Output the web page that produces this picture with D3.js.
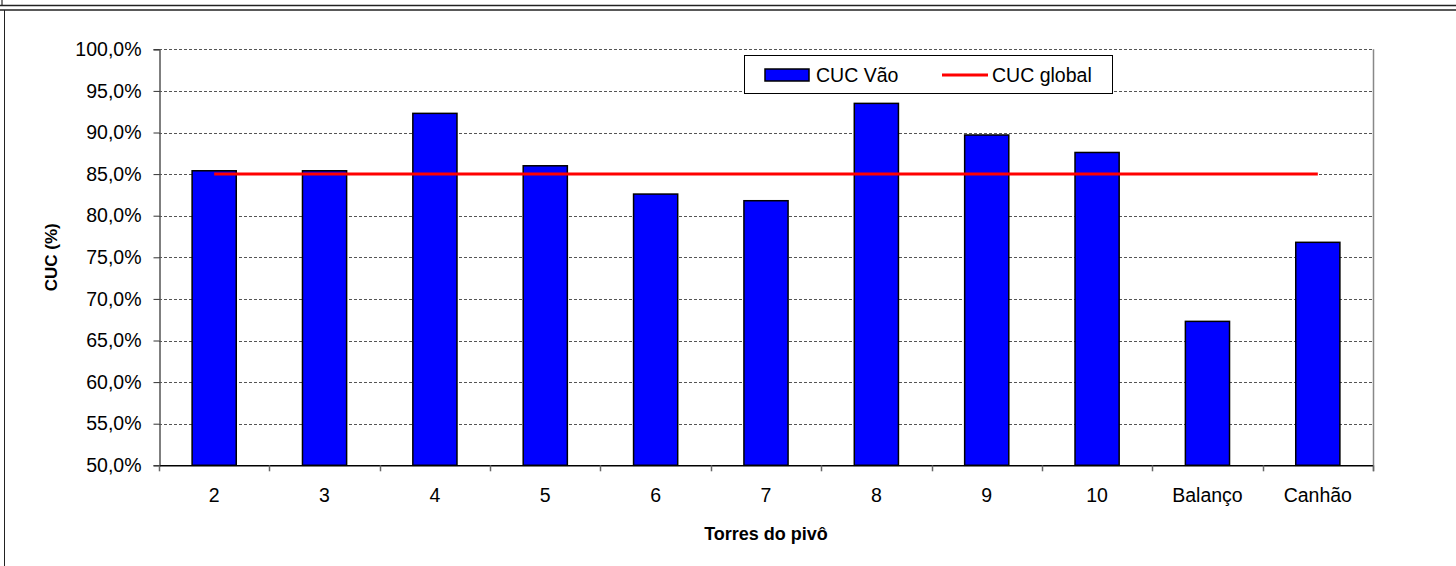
<!DOCTYPE html>
<html>
<head>
<meta charset="utf-8">
<script src="https://cdn.jsdelivr.net/npm/d3@7"></script>
<style>
  html, body { margin: 0; padding: 0; background: #fff; }
  svg { display: block; font-family: Arial, "Liberation Sans", sans-serif; }
</style>
</head>
<body>
<svg id="chart" width="1456" height="566"></svg>
<script>
// Tower labels along the pivot and the uniformity coefficient measured in each span
const categories = ["2", "3", "4", "5", "6", "7", "8", "9", "10", "Balanço", "Canhão"];
const cucVao = [85.4, 85.4, 92.3, 86.0, 82.6, 81.8, 93.5, 89.7, 87.6, 67.3, 76.8];
// Overall uniformity coefficient of the whole pivot
const cucGlobal = 85.0;
const yTicks = [50, 55, 60, 65, 70, 75, 80, 85, 90, 95, 100];
const seriesNames = ["CUC Vão", "CUC global"];

const svg = d3.select("#chart");
const W = 1456, H = 566;
const plot = { left: 159, right: 1373, top: 49.3, bottom: 465.3 };
const labelSize = 19.5, titleSize = 17;

// Outer frame lines
svg.append("line").attr("x1", 2).attr("x2", 2).attr("y1", 0).attr("y2", 5)
  .attr("stroke", "#000").attr("stroke-width", 1);
svg.append("line").attr("x1", 0).attr("x2", W).attr("y1", 5.5).attr("y2", 5.5)
  .attr("stroke", "#222").attr("stroke-width", 1.5);
svg.append("line").attr("x1", 0).attr("x2", W).attr("y1", 10).attr("y2", 10)
  .attr("stroke", "#222").attr("stroke-width", 1.5);
svg.append("line").attr("x1", 4.5).attr("x2", 4.5).attr("y1", 10).attr("y2", H)
  .attr("stroke", "#222").attr("stroke-width", 1);

const xb = d3.scaleBand().domain(categories).range([plot.left, plot.right]);
const y = d3.scaleLinear().domain([50, 100]).range([plot.bottom, plot.top]);

// Dotted gridlines
svg.append("g").selectAll("line").data(yTicks.slice(1)).join("line")
  .attr("x1", plot.left).attr("x2", plot.right)
  .attr("y1", d => Math.round(y(d)) + 0.5).attr("y2", d => Math.round(y(d)) + 0.5)
  .attr("stroke", "#555").attr("stroke-width", 1).attr("stroke-dasharray", "3,2");

// Right plot border
svg.append("line").attr("x1", plot.right + 0.5).attr("x2", plot.right + 0.5)
  .attr("y1", plot.top).attr("y2", plot.bottom + 6)
  .attr("stroke", "#888").attr("stroke-width", 1.5);

// Bars (gap width 150% of the bar)
svg.append("g").selectAll("rect").data(categories).join("rect")
  .attr("x", d => xb(d) + xb.bandwidth() * 0.3)
  .attr("width", xb.bandwidth() * 0.4)
  .attr("y", (d, i) => y(cucVao[i]))
  .attr("height", (d, i) => y(50) - y(cucVao[i]))
  .attr("fill", "#0000ff").attr("stroke", "#000").attr("stroke-width", 1.5);

// Global CUC line across category centres
const lineGen = d3.line().x(d => xb(d) + xb.bandwidth() / 2).y(() => y(cucGlobal));
svg.append("path").datum(categories).attr("d", lineGen)
  .attr("fill", "none").attr("stroke", "#ff0000").attr("stroke-width", 3);

// Y axis
const yAxis = d3.axisLeft(y).tickValues(yTicks).tickSize(6).tickPadding(12)
  .tickFormat(d => d3.format(".1f")(d).replace(".", ",") + "%");
const gy = svg.append("g").attr("transform", `translate(${plot.left + 0.5},0)`).call(yAxis);
gy.select(".domain").attr("stroke", "#555").attr("stroke-width", 1.5);
gy.selectAll(".tick line").attr("stroke", "#333").attr("stroke-width", 1);
gy.selectAll(".tick text").attr("font-size", labelSize).attr("fill", "#000")
  .attr("font-family", "Arial, 'Liberation Sans', sans-serif");

// X axis: ticks at category boundaries
const xBoundaries = categories.map(d => xb(d)).concat([plot.right]);
svg.append("line").attr("x1", plot.left).attr("x2", plot.right)
  .attr("y1", plot.bottom + 0.5).attr("y2", plot.bottom + 0.5)
  .attr("stroke", "#000").attr("stroke-width", 1.5);
svg.append("g").selectAll("line").data(xBoundaries).join("line")
  .attr("x1", d => Math.round(d) + 0.5).attr("x2", d => Math.round(d) + 0.5)
  .attr("y1", plot.bottom).attr("y2", plot.bottom + 6)
  .attr("stroke", "#666").attr("stroke-width", 1.5);
svg.append("g").selectAll("text").data(categories).join("text")
  .attr("x", d => xb(d) + xb.bandwidth() / 2).attr("y", 502)
  .attr("text-anchor", "middle").attr("font-size", labelSize).attr("fill", "#000")
  .text(d => d);

// Axis titles
svg.append("text").attr("x", (plot.left + plot.right) / 2).attr("y", 540)
  .attr("text-anchor", "middle").attr("font-size", titleSize + 1).attr("font-weight", "bold")
  .text("Torres do pivô");
svg.append("text").attr("transform", `translate(57,${(plot.top + plot.bottom) / 2}) rotate(-90)`)
  .attr("text-anchor", "middle").attr("font-size", titleSize).attr("font-weight", "bold")
  .text("CUC (%)");

// Legend
const lg = svg.append("g");
lg.append("rect").attr("x", 744.5).attr("y", 55.5).attr("width", 368).attr("height", 38)
  .attr("fill", "#fff").attr("stroke", "#000").attr("stroke-width", 1);
lg.append("rect").attr("x", 765).attr("y", 69).attr("width", 44).attr("height", 12)
  .attr("fill", "#0000ff").attr("stroke", "#000").attr("stroke-width", 1.5);
lg.append("text").attr("x", 816).attr("y", 82).attr("font-size", labelSize).text(seriesNames[0]);
lg.append("line").attr("x1", 942).attr("x2", 988).attr("y1", 75).attr("y2", 75)
  .attr("stroke", "#ff0000").attr("stroke-width", 3);
lg.append("text").attr("x", 992).attr("y", 82).attr("font-size", labelSize).text(seriesNames[1]);
</script>
</body>
</html>
